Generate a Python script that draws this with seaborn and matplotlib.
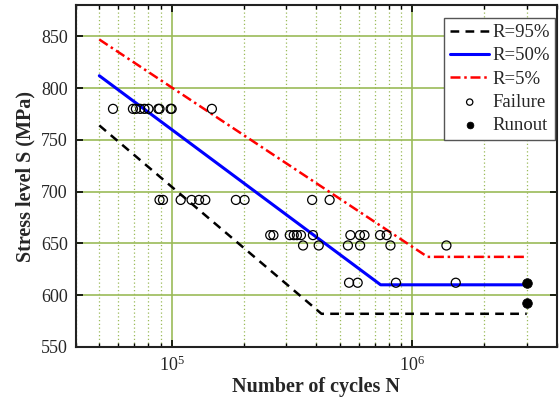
import numpy as np
import pandas as pd
import matplotlib
matplotlib.use('Agg')
import matplotlib.pyplot as plt
import seaborn as sns
from matplotlib.ticker import LogLocator, NullFormatter, FixedLocator

# Curves: (N, S) break points
curve_labels = ['R=95%', 'R=50%', 'R=5%']
n_95 = [5e4, 4.2e5, 3e6]
s_95 = [764, 582, 582]
n_50 = [5e4, 7.4e5, 3e6]
s_50 = [812, 610, 610]
n_5 = [5e4, 1.16e6, 3e6]
s_5 = [847, 637, 637]

# Test data
fail_n = [57e3, 69e3, 71e3, 74e3, 77e3, 80e3, 88e3, 89e3, 99e3, 100e3, 147e3,
          89e3, 92e3, 109e3, 121e3, 130e3, 138e3, 185e3, 201e3, 384e3, 454e3,
          257e3, 265e3, 310e3, 322e3, 332e3, 345e3, 387e3, 554e3, 607e3, 634e3, 736e3, 784e3,
          352e3, 409e3, 541e3, 608e3, 813e3, 1.39e6,
          547e3, 594e3, 857e3, 1.52e6]
fail_s = [780] * 11 + [692] * 10 + [658] * 12 + [648] * 6 + [612] * 4
runout_n = [3e6, 3e6]
runout_s = [612, 592]

sns.set_style('ticks')
plt.rcParams['font.family'] = ['Liberation Serif', 'DejaVu Serif']
plt.rcParams['mathtext.fontset'] = 'stix'

grid_green = '#9bbb59'

fig = plt.figure(figsize=(5.59, 4.12), dpi=100)
ax = fig.add_axes([0.136, 0.158, 0.860, 0.829])

sns.lineplot(x=n_95, y=s_95, ax=ax, color='black', lw=1.8, linestyle=(0, (3.5, 2.5)),
             label=curve_labels[0], zorder=3)
sns.lineplot(x=n_50, y=s_50, ax=ax, color='#0000ff', lw=2.2, label=curve_labels[1], zorder=3)
sns.lineplot(x=n_5, y=s_5, ax=ax, color='#ff0000', lw=1.8, linestyle=(0, (4, 1.5, 1, 1.5)),
             label=curve_labels[2], zorder=3)
sns.scatterplot(x=fail_n, y=fail_s, ax=ax, marker='o', s=42, facecolor='none',
                edgecolor='black', linewidth=0.9, label='Failure', zorder=4)
sns.scatterplot(x=runout_n, y=runout_s, ax=ax, marker='o', s=48, color='black',
                edgecolor='black', label='Runout', zorder=4)

ax.set_xscale('log')
ax.set_xlim(4e4, 4e6)
ax.set_ylim(550, 880)
ax.set_yticks([550, 600, 650, 700, 750, 800, 850])
ax.xaxis.set_major_locator(FixedLocator([1e5, 1e6]))
ax.xaxis.set_minor_locator(LogLocator(base=10, subs=np.arange(2, 10)))
ax.xaxis.set_minor_formatter(NullFormatter())

ax.grid(True, which='major', axis='both', color=grid_green, lw=1.2, linestyle='-', zorder=0)
ax.grid(True, which='minor', axis='x', color=grid_green, lw=0.9, linestyle=(0, (1, 2)), zorder=0)
ax.set_axisbelow(True)

ax.tick_params(which='both', direction='in', top=True, right=True, color='black')
ax.tick_params(which='major', length=5, width=1.2, labelsize=13, pad=6)
ax.tick_params(which='minor', length=3, width=1.0)
for sp in ax.spines.values():
    sp.set_linewidth(1.5)
    sp.set_color('#222222')

ax.set_xlabel('Number of cycles N', fontsize=14.5, fontweight='bold', labelpad=2)
ax.set_ylabel('Stress level S (MPa)', fontsize=14.5, fontweight='bold', labelpad=4)

leg = ax.legend(loc='upper right', bbox_to_anchor=(0.997, 0.962), fontsize=13.5,
                frameon=True, fancybox=False, handlelength=2.1, handletextpad=0.15,
                borderpad=0.3, labelspacing=0.33, borderaxespad=0, framealpha=1,
                markerscale=0.7)
leg.get_frame().set_edgecolor('#555555')
leg.get_frame().set_linewidth(1.0)

fig.savefig('out.png', dpi=100)
